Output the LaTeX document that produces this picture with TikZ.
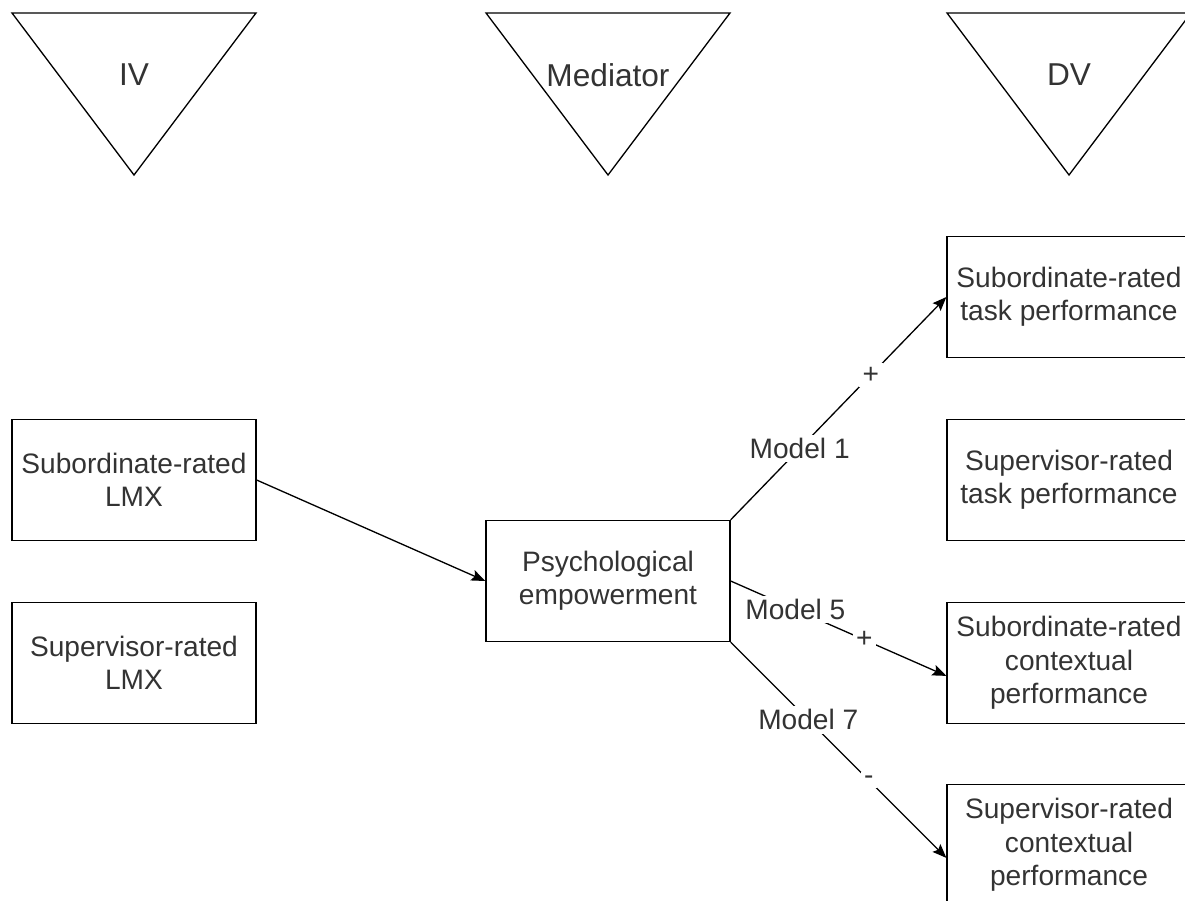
\documentclass[tikz,border=0pt]{standalone}
\usepackage{fontspec}
\setmainfont{Liberation Sans}
\usetikzlibrary{arrows.meta, positioning, calc}
\definecolor{txtc}{HTML}{333333}
\newcommand{\varbox}[3]{%
  \node[draw, minimum width=4.88cm, minimum height=2.42cm,
        align=center, inner sep=0pt] (#1) at #2 {#3};
}
\newcommand{\headtri}[3]{%
  \draw ($#2+(-122,-62)$) -- ($#2+(122,-62)$) -- ($#2+(0,100)$) -- cycle;
  \node[font=\fontsize{18}{21}\selectfont] (#1) at #2 {#3};
}

\begin{document}
\begin{tikzpicture}[x=0.02cm, y=-0.02cm, line width=0.75pt,
          >={Stealth[length=0.28cm, width=0.22cm, inset=0.05cm]},
          font=\fontsize{16}{19}\selectfont, text=txtc,
          lbl/.style={fill=white, inner sep=2pt}]
        \useasboundingbox (0,0) rectangle (1185,901);
        \headtri{iv}{(134,75)}{IV}
        \headtri{med}{(608,75)}{Mediator}
        \headtri{dv}{(1069,75)}{DV}
        \varbox{slmx}{(134,480)}{Subordinate-rated\\LMX}
        \varbox{vlmx}{(134,663)}{Supervisor-rated\\LMX}
        \varbox{pe}{(608,581)}{Psychological\\empowerment}
        \varbox{stask}{(1069,297)}{Subordinate-rated\\task performance}
        \varbox{vtask}{(1069,480)}{Supervisor-rated\\task performance}
        \varbox{sctx}{(1069,663)}{Subordinate-rated\\contextual\\performance}
        \varbox{vctx}{(1069,845)}{Supervisor-rated\\contextual\\performance}
        \draw[->] (slmx.east) -- (pe.west);
        \draw[->] (pe.north east) -- node[lbl, pos=0.32] (m1) {Model 1}
          node[lbl, pos=0.65] (s1) {+} (stask.west);
        \draw[->] (pe.east) -- node[lbl, pos=0.3] (m5) {Model 5}
          node[lbl, pos=0.62] (s5) {+} (sctx.186.5);
        \draw[->] (pe.south east) -- node[lbl, pos=0.36] (m7) {Model 7}
          node[lbl, pos=0.64] (s7) {-} (vctx.186);
      \end{tikzpicture}
\end{document}
